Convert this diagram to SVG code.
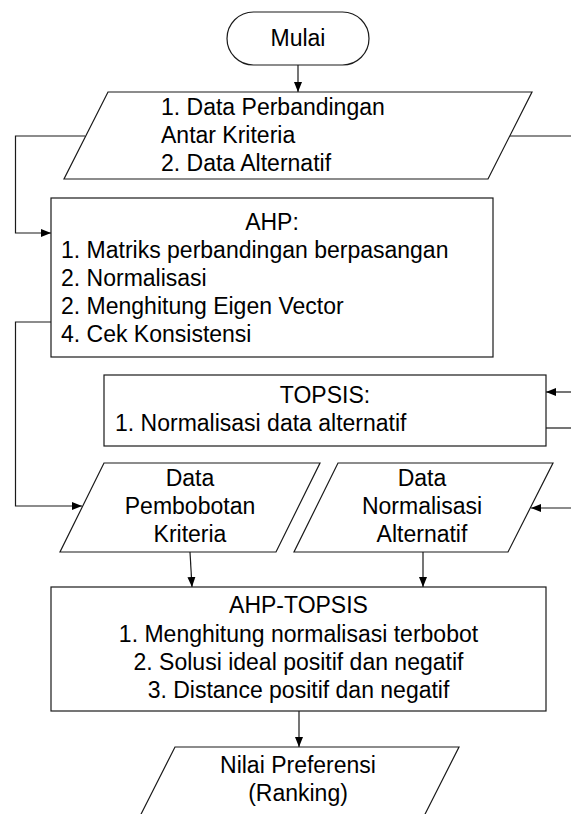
<svg xmlns="http://www.w3.org/2000/svg" width="571" height="814" viewBox="0 0 571 814">
<style>
.s{fill:#fff;stroke:#1a1a1a;stroke-width:1.2}
.c{fill:none;stroke:#1a1a1a;stroke-width:1.2}
text{font-family:"Liberation Sans",Arial,sans-serif;font-size:23px;fill:#000}
.m{text-anchor:middle}
</style>
<defs>
<marker id="a" viewBox="0 0 10 10" refX="10" refY="5" markerWidth="10" markerHeight="10" markerUnits="userSpaceOnUse" orient="auto">
<path d="M0,1 L10,5 L0,9 z" fill="#000"/>
</marker>
</defs>
<rect width="571" height="814" fill="#fff"/>
<g id="connectors">
<path class="c" d="M298,65 V92" marker-end="url(#a)"/>
<path class="c" d="M85,136 H15.5 V233 H51" marker-end="url(#a)"/>
<path class="c" d="M510,136 H571"/>
<path class="c" d="M51,322 H15.5 V506 H82" marker-end="url(#a)"/>
<path class="c" d="M571,392 H546" marker-end="url(#a)"/>
<path class="c" d="M546,428 H571"/>
<path class="c" d="M571,508 H531" marker-end="url(#a)"/>
<path class="c" d="M190,552 L192,587" marker-end="url(#a)"/>
<path class="c" d="M423,552 V587" marker-end="url(#a)"/>
<path class="c" d="M299,711 V747" marker-end="url(#a)"/>
</g>
<g id="mulai">
<rect class="s" x="227" y="12" width="142" height="53" rx="26.5"/>
<text class="m" x="298" y="46">Mulai</text>
</g>
<g id="input-data">
<polygon class="s" points="108,92 532,92 488,179 64,179"/>
<text x="161" y="115">1. Data Perbandingan</text>
<text x="161" y="143">Antar Kriteria</text>
<text x="161" y="171">2. Data Alternatif</text>
</g>
<g id="ahp">
<rect class="s" x="51" y="198" width="442" height="159"/>
<text class="m" x="272" y="230">AHP:</text>
<text x="61" y="258">1. Matriks perbandingan berpasangan</text>
<text x="61" y="286">2. Normalisasi</text>
<text x="61" y="314">2. Menghitung Eigen Vector</text>
<text x="61" y="342">4. Cek Konsistensi</text>
</g>
<g id="topsis">
<rect class="s" x="104" y="375" width="442" height="71"/>
<text class="m" x="325" y="403">TOPSIS:</text>
<text x="115" y="431">1. Normalisasi data alternatif</text>
</g>
<g id="data-pembobotan">
<polygon class="s" points="104,463 320,463 276,552 60,552"/>
<text class="m" x="190" y="486">Data</text>
<text class="m" x="190" y="514">Pembobotan</text>
<text class="m" x="190" y="542">Kriteria</text>
</g>
<g id="data-normalisasi">
<polygon class="s" points="338,463 553,463 508,552 294,552"/>
<text class="m" x="422" y="486">Data</text>
<text class="m" x="422" y="514">Normalisasi</text>
<text class="m" x="422" y="542">Alternatif</text>
</g>
<g id="ahp-topsis">
<rect class="s" x="51" y="587" width="495" height="124"/>
<text class="m" x="298.5" y="613">AHP-TOPSIS</text>
<text class="m" x="298.5" y="642">1. Menghitung normalisasi terbobot</text>
<text class="m" x="298.5" y="670">2. Solusi ideal positif dan negatif</text>
<text class="m" x="298.5" y="698">3. Distance positif dan negatif</text>
</g>
<g id="nilai-preferensi">
<polygon class="s" points="175,747 459,747 415,834 131,834"/>
<text class="m" x="298" y="773">Nilai Preferensi</text>
<text class="m" x="298" y="801">(Ranking)</text>
</g>
</svg>
